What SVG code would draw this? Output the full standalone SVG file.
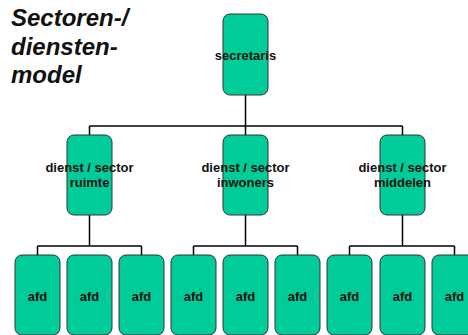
<svg xmlns="http://www.w3.org/2000/svg" width="468" height="335" viewBox="0 0 468 335">
<style>
.box{fill:#00CC99;stroke:#333;stroke-width:1}
.lbl{font-family:"Liberation Sans",Arial,sans-serif;font-weight:bold;font-size:13px;fill:#111;text-anchor:middle}
.title{font-family:"Liberation Sans",Arial,sans-serif;font-weight:bold;font-style:italic;font-size:24px;fill:#111}
.con{fill:none;stroke:#000;stroke-width:1.5}
</style>
<rect width="468" height="335" fill="#fff"/>
<text class="title" x="11" y="26">Sectoren-/</text>
<text class="title" x="11" y="55">diensten-</text>
<text class="title" x="11" y="83">model</text>
<g id="connectors">
<path class="con" d="M245.5 95V126M89.5 126H402.5M89.5 126V135M245.5 126V135M402.5 126V135"/>
<path class="con" d="M89.5 215V246M37.5 246H141.5M37.5 246V255M141.5 246V255"/>
<path class="con" d="M245.5 215V246M193.5 246H297.5M193.5 246V255M297.5 246V255"/>
<path class="con" d="M402.5 215V246M349.5 246H454.5M349.5 246V255M454.5 246V255"/>
</g>
<g id="secretaris"><rect class="box" x="223" y="14" width="45" height="81" rx="7"/><text class="lbl" x="245.5" y="60">secretaris</text></g>
<g id="sector-ruimte"><rect class="box" x="67" y="135" width="45" height="80" rx="7"/><text class="lbl" x="89.5" y="172">dienst / sector</text><text class="lbl" x="89.5" y="187">ruimte</text></g>
<g id="sector-inwoners"><rect class="box" x="223" y="135" width="45" height="80" rx="7"/><text class="lbl" x="245.5" y="172">dienst / sector</text><text class="lbl" x="245.5" y="187">inwoners</text></g>
<g id="sector-middelen"><rect class="box" x="380" y="135" width="45" height="80" rx="7"/><text class="lbl" x="402.5" y="172">dienst / sector</text><text class="lbl" x="402.5" y="187">middelen</text></g>
<g id="afd1"><rect class="box" x="15" y="255" width="45" height="80" rx="7"/><text class="lbl" x="37.5" y="301">afd</text></g>
<g id="afd2"><rect class="box" x="67" y="255" width="45" height="80" rx="7"/><text class="lbl" x="89.5" y="301">afd</text></g>
<g id="afd3"><rect class="box" x="119" y="255" width="45" height="80" rx="7"/><text class="lbl" x="141.5" y="301">afd</text></g>
<g id="afd4"><rect class="box" x="171" y="255" width="45" height="80" rx="7"/><text class="lbl" x="193.5" y="301">afd</text></g>
<g id="afd5"><rect class="box" x="223" y="255" width="45" height="80" rx="7"/><text class="lbl" x="245.5" y="301">afd</text></g>
<g id="afd6"><rect class="box" x="275" y="255" width="45" height="80" rx="7"/><text class="lbl" x="297.5" y="301">afd</text></g>
<g id="afd7"><rect class="box" x="327" y="255" width="45" height="80" rx="7"/><text class="lbl" x="349.5" y="301">afd</text></g>
<g id="afd8"><rect class="box" x="380" y="255" width="45" height="80" rx="7"/><text class="lbl" x="402.5" y="301">afd</text></g>
<g id="afd9"><rect class="box" x="432" y="255" width="45" height="80" rx="7"/><text class="lbl" x="454.5" y="301">afd</text></g>
</svg>
